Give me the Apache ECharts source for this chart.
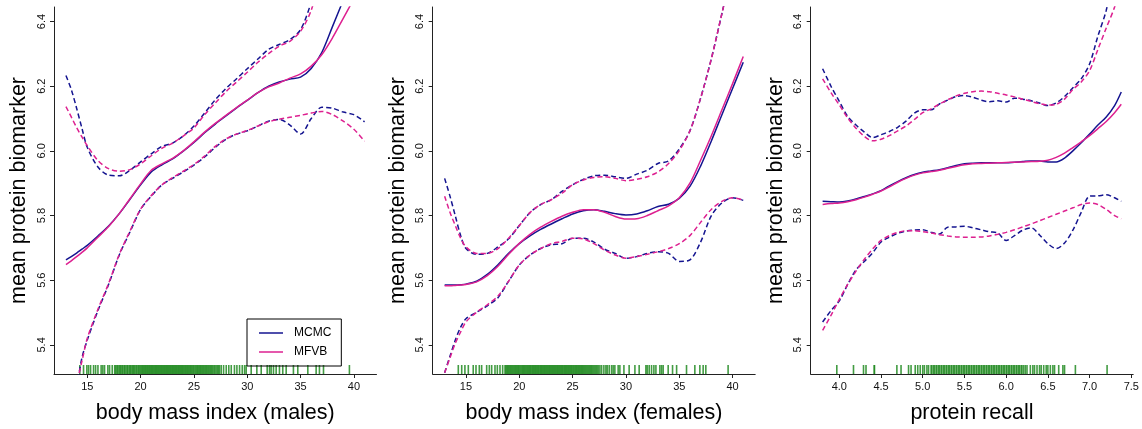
<!DOCTYPE html>
<html>
<head>
<meta charset="utf-8">
<script src="https://cdn.jsdelivr.net/npm/echarts@6/dist/echarts.min.js"></script>
<style>
html,body{margin:0;padding:0;background:#fff;}
#chart{width:1142px;height:429px;}
</style>
</head>
<body>
<div id="chart"></div>
<script>
// ---------- data ----------
const seriesNames = ['MCMC', 'MFVB'];
const xTitles = ['body mass index (males)', 'body mass index (females)', 'protein recall'];
const yTitle = 'mean protein biomarker';
const yTicks = [5.4, 5.6, 5.8, 6.0, 6.2, 6.4];
const xTicksBMI = [15, 20, 25, 30, 35, 40];
const xTicksRecall = [4.0, 4.5, 5.0, 5.5, 6.0, 6.5, 7.0, 7.5];

// Panel 1: body mass index (males)
const x1 = [13, 13.5, 14, 14.5, 15, 16, 17, 18, 19, 20, 21, 22, 23, 24, 25, 26, 27, 28, 29, 30, 31, 32, 33, 34, 35, 36, 37, 38, 39, 40, 41];
const p1McmcMean = [5.663, 5.673, 5.684, 5.696, 5.708, 5.737, 5.768, 5.806, 5.85, 5.895, 5.935, 5.957, 5.975, 5.999, 6.026, 6.056, 6.083, 6.108, 6.133, 6.156, 6.18, 6.2, 6.213, 6.222, 6.228, 6.255, 6.305, 6.385, 6.466, 6.55, 6.63];
const p1MfvbMean = [5.648, 5.66, 5.673, 5.686, 5.70, 5.733, 5.766, 5.806, 5.852, 5.898, 5.94, 5.96, 5.977, 6.0, 6.028, 6.058, 6.085, 6.11, 6.134, 6.157, 6.18, 6.198, 6.21, 6.225, 6.238, 6.262, 6.298, 6.35, 6.41, 6.47, 6.53];
const p1McmcUpper = [6.233, 6.19, 6.132, 6.07, 6.011, 5.95, 5.925, 5.923, 5.94, 5.966, 5.991, 6.014, 6.024, 6.046, 6.077, 6.117, 6.158, 6.193, 6.223, 6.254, 6.284, 6.314, 6.329, 6.344, 6.375, 6.46, 6.58, 6.72, 6.85, 6.98, 7.1];
const p1MfvbUpper = [6.137, 6.105, 6.072, 6.043, 6.016, 5.97, 5.945, 5.937, 5.942, 5.96, 5.985, 6.008, 6.024, 6.046, 6.071, 6.112, 6.148, 6.183, 6.213, 6.243, 6.274, 6.301, 6.324, 6.339, 6.37, 6.435, 6.56, 6.69, 6.82, 6.95, 7.08];
const p1McmcLower = [5.15, 5.2, 5.27, 5.36, 5.415, 5.506, 5.587, 5.678, 5.749, 5.819, 5.86, 5.895, 5.915, 5.935, 5.956, 5.981, 6.011, 6.036, 6.052, 6.062, 6.077, 6.092, 6.097, 6.08, 6.052, 6.1, 6.135, 6.132, 6.12, 6.112, 6.09];
const p1MfvbLower = [5.17, 5.22, 5.28, 5.35, 5.42, 5.51, 5.59, 5.68, 5.752, 5.82, 5.862, 5.895, 5.917, 5.937, 5.958, 5.984, 6.014, 6.037, 6.052, 6.063, 6.077, 6.09, 6.098, 6.104, 6.11, 6.117, 6.122, 6.112, 6.092, 6.067, 6.03];
const rug1 = [14.3, 14.65, 14.96, 15.12, 15.31, 15.59, 15.78, 16.0, 16.3, 16.46, 16.62, 16.93, 17.09, 17.34,
  17.57, 17.66, 17.78, 17.85, 17.97, 18.06, 18.14, 18.25, 18.33, 18.45, 18.52, 18.63, 18.74, 18.81, 18.93, 19.02, 19.1, 19.21, 19.3, 19.38, 19.47, 19.58, 19.66, 19.77, 19.85, 19.94,
  20.03, 20.12, 20.2, 20.28, 20.37, 20.45, 20.53, 20.62, 20.7, 20.78, 20.86, 20.95, 21.03, 21.1, 21.18, 21.27, 21.35, 21.43, 21.5, 21.58, 21.66, 21.74, 21.82, 21.9, 21.98,
  22.06, 22.14, 22.22, 22.3, 22.38, 22.46, 22.54, 22.62, 22.7, 22.78, 22.86, 22.94, 23.02, 23.1, 23.18, 23.26, 23.34, 23.42, 23.5, 23.58, 23.66, 23.74, 23.82, 23.9, 23.98,
  24.06, 24.15, 24.23, 24.32, 24.4, 24.48, 24.57, 24.66, 24.74, 24.83, 24.92, 25.0, 25.1, 25.19, 25.28, 25.36, 25.45, 25.55, 25.63, 25.72, 25.82, 25.9, 26.0, 26.1, 26.18, 26.28,
  26.38, 26.47, 26.58, 26.66, 26.77, 26.88, 26.97, 27.08, 27.2, 27.3, 27.4,
  27.56, 27.78, 28.03, 28.27, 28.5, 28.8, 29.03, 29.28, 29.53, 29.75, 29.9,
  30.37, 30.9, 31.31, 31.87, 32.09, 32.24, 32.46, 32.71, 33.02, 33.33, 33.65, 34.33, 34.74, 35.68, 36.46, 36.77, 37.15, 39.58];

// Panel 2: body mass index (females)
const x2 = [13, 13.5, 14, 14.5, 15, 16, 17, 18, 19, 20, 21, 22, 23, 24, 25, 26, 27, 28, 29, 30, 31, 32, 33, 34, 35, 36, 37, 38, 39, 40, 41];
const p2McmcMean = [5.585, 5.585, 5.585, 5.586, 5.588, 5.597, 5.618, 5.648, 5.683, 5.713, 5.737, 5.757, 5.774, 5.79, 5.805, 5.815, 5.818, 5.813, 5.806, 5.802, 5.805, 5.815, 5.828, 5.835, 5.853, 5.89, 5.953, 6.03, 6.112, 6.193, 6.274];
const p2MfvbMean = [5.583, 5.583, 5.584, 5.585, 5.587, 5.595, 5.614, 5.643, 5.68, 5.714, 5.742, 5.764, 5.782, 5.798, 5.81, 5.818, 5.818, 5.81, 5.797, 5.789, 5.79, 5.8, 5.815, 5.83, 5.855, 5.9, 5.971, 6.046, 6.127, 6.208, 6.292];
const p2McmcUpper = [5.915, 5.86, 5.799, 5.738, 5.698, 5.68, 5.683, 5.703, 5.728, 5.769, 5.809, 5.834, 5.849, 5.875, 5.895, 5.912, 5.923, 5.925, 5.92, 5.915, 5.928, 5.94, 5.961, 5.969, 6.006, 6.062, 6.163, 6.284, 6.425, 6.57, 6.72];
const p2MfvbUpper = [5.86, 5.81, 5.769, 5.73, 5.703, 5.683, 5.683, 5.698, 5.73, 5.769, 5.809, 5.834, 5.849, 5.869, 5.895, 5.91, 5.918, 5.92, 5.915, 5.908, 5.912, 5.92, 5.935, 5.961, 6.001, 6.062, 6.163, 6.284, 6.425, 6.57, 6.72];
const p2McmcLower = [5.314, 5.365, 5.415, 5.455, 5.481, 5.501, 5.521, 5.546, 5.597, 5.647, 5.678, 5.698, 5.71, 5.713, 5.73, 5.73, 5.718, 5.696, 5.683, 5.668, 5.673, 5.683, 5.688, 5.683, 5.658, 5.663, 5.718, 5.799, 5.839, 5.855, 5.847];
const p2MfvbLower = [5.314, 5.36, 5.405, 5.44, 5.471, 5.501, 5.524, 5.551, 5.597, 5.647, 5.678, 5.698, 5.713, 5.72, 5.73, 5.728, 5.713, 5.693, 5.678, 5.668, 5.673, 5.68, 5.688, 5.698, 5.713, 5.738, 5.779, 5.819, 5.844, 5.855, 5.848];
const rug2 = [14.28, 14.6, 14.9, 15.22, 15.68, 15.94, 16.25, 16.47, 16.94, 17.19, 17.41, 17.72, 17.94, 18.19, 18.44,
  18.66, 18.74, 18.83, 18.92, 19.0, 19.1, 19.18, 19.27, 19.36, 19.45, 19.55, 19.63, 19.72, 19.81, 19.9, 19.98,
  20.07, 20.16, 20.25, 20.33, 20.42, 20.5, 20.59, 20.68, 20.77, 20.85, 20.94, 21.02, 21.1, 21.19, 21.27, 21.35, 21.44, 21.52, 21.6, 21.69, 21.77, 21.85, 21.94,
  22.02, 22.1, 22.18, 22.27, 22.35, 22.43, 22.52, 22.6, 22.68, 22.77, 22.85, 22.93, 23.02, 23.1, 23.18, 23.27, 23.35, 23.43, 23.52, 23.6, 23.68, 23.77, 23.85, 23.94,
  24.02, 24.1, 24.19, 24.27, 24.36, 24.44, 24.53, 24.61, 24.7, 24.78, 24.87, 24.95, 25.04, 25.12, 25.21, 25.3, 25.38, 25.47, 25.56, 25.64, 25.73, 25.82, 25.9,
  25.99, 26.08, 26.17, 26.26, 26.35, 26.44, 26.53, 26.62, 26.71, 26.8, 26.9, 27.0, 27.1, 27.2, 27.3, 27.42, 27.56,
  27.72, 27.93, 28.12, 28.24, 28.43, 28.65, 28.8, 28.96, 29.27, 29.43, 29.81, 30.3, 30.84, 31.24, 31.87, 31.99, 32.18, 32.4, 32.62, 32.81,
  33.18, 33.34, 33.49, 33.96, 34.37, 34.75, 35.68, 36.46, 36.93, 37.24, 37.49, 39.58];

// Panel 3: protein recall
const x3 = [3.8, 3.9, 4.0, 4.1, 4.2, 4.3, 4.4, 4.5, 4.6, 4.7, 4.8, 4.9, 5.0, 5.1, 5.2, 5.3, 5.4, 5.5, 5.6, 5.7, 5.8, 5.9, 6.0, 6.1, 6.2, 6.3, 6.4, 6.5, 6.6, 6.7, 6.8, 6.9, 7.0, 7.1, 7.2, 7.3, 7.38];
const p3McmcMean = [5.844, 5.843, 5.842, 5.845, 5.851, 5.859, 5.867, 5.877, 5.892, 5.905, 5.917, 5.927, 5.934, 5.938, 5.942, 5.948, 5.955, 5.96, 5.962, 5.963, 5.963, 5.963, 5.963, 5.965, 5.967, 5.969, 5.969, 5.966, 5.966, 5.978, 6.0, 6.025, 6.052, 6.08, 6.105, 6.14, 6.182];
const p3MfvbMean = [5.834, 5.837, 5.839, 5.843, 5.849, 5.857, 5.866, 5.876, 5.889, 5.903, 5.915, 5.925, 5.932, 5.936, 5.94, 5.946, 5.952, 5.957, 5.96, 5.961, 5.962, 5.963, 5.964, 5.965, 5.966, 5.967, 5.968, 5.971, 5.98, 5.993, 6.01, 6.028, 6.047, 6.069, 6.091, 6.118, 6.144];
const p3McmcUpper = [6.254, 6.2, 6.153, 6.107, 6.08, 6.058, 6.041, 6.05, 6.06, 6.073, 6.092, 6.117, 6.127, 6.127, 6.145, 6.157, 6.168, 6.171, 6.166, 6.157, 6.152, 6.155, 6.151, 6.163, 6.16, 6.155, 6.148, 6.14, 6.148, 6.168, 6.195, 6.223, 6.269, 6.355, 6.435, 6.56, 6.66];
const p3MfvbUpper = [6.223, 6.18, 6.142, 6.102, 6.07, 6.045, 6.031, 6.036, 6.047, 6.062, 6.077, 6.097, 6.118, 6.13, 6.145, 6.158, 6.17, 6.178, 6.183, 6.185, 6.183, 6.178, 6.173, 6.167, 6.16, 6.153, 6.146, 6.142, 6.144, 6.16, 6.19, 6.213, 6.248, 6.314, 6.38, 6.445, 6.52];
const p3McmcLower = [5.471, 5.506, 5.536, 5.587, 5.632, 5.658, 5.685, 5.718, 5.733, 5.745, 5.752, 5.755, 5.756, 5.748, 5.743, 5.764, 5.765, 5.767, 5.762, 5.756, 5.75, 5.746, 5.723, 5.738, 5.755, 5.762, 5.74, 5.713, 5.698, 5.715, 5.755, 5.81, 5.86, 5.861, 5.864, 5.855, 5.844];
const p3MfvbLower = [5.445, 5.491, 5.541, 5.587, 5.628, 5.665, 5.697, 5.723, 5.738, 5.748, 5.753, 5.753, 5.75, 5.746, 5.741, 5.737, 5.734, 5.733, 5.733, 5.734, 5.737, 5.742, 5.748, 5.756, 5.765, 5.774, 5.784, 5.794, 5.804, 5.814, 5.824, 5.834, 5.839, 5.834, 5.819, 5.8, 5.79];
const rug3 = [3.97, 4.17, 4.29, 4.32, 4.42, 4.42, 4.69, 4.74, 4.83, 4.86, 4.91, 4.94, 4.97, 5.0, 5.02, 5.05, 5.07,
  5.1, 5.11, 5.13, 5.14, 5.16, 5.17, 5.19, 5.2, 5.22, 5.23, 5.25, 5.26, 5.28, 5.29, 5.31, 5.32, 5.34, 5.35, 5.37, 5.38, 5.4, 5.41, 5.43, 5.44, 5.46, 5.47, 5.49, 5.5,
  5.52, 5.53, 5.55, 5.56, 5.58, 5.59, 5.61, 5.62, 5.64, 5.65, 5.67, 5.68, 5.7, 5.71, 5.73, 5.74, 5.76, 5.77, 5.79, 5.8, 5.82, 5.83, 5.85, 5.86, 5.88, 5.89, 5.91, 5.92,
  5.94, 5.95, 5.97, 5.98, 6.0, 6.01, 6.03, 6.04, 6.06, 6.07, 6.09, 6.1, 6.12, 6.13, 6.15, 6.16, 6.18, 6.19, 6.21, 6.23,
  6.25, 6.29, 6.32, 6.34, 6.37, 6.4, 6.42, 6.45, 6.48, 6.5, 6.53, 6.56, 6.58, 6.63, 6.68, 6.7, 6.83, 7.21];

// ---------- chart ----------
const MCMC_COLOR = '#141490';
const MFVB_COLOR = '#DD2090';
const RUG_COLOR = '#228B22';
const FONT = '"Liberation Sans", Arial, Helvetica, sans-serif';
const Y_MIN = 5.31, Y_MAX = 6.445;

const panels = [
  {x: x1, mm: p1McmcMean, fm: p1MfvbMean, mu: p1McmcUpper, fu: p1MfvbUpper, ml: p1McmcLower, fl: p1MfvbLower, rug: rug1,
   xmin: 11.88, xmax: 42.12, ticks: xTicksBMI, dec: 0, left: 54},
  {x: x2, mm: p2McmcMean, fm: p2MfvbMean, mu: p2McmcUpper, fu: p2MfvbUpper, ml: p2McmcLower, fl: p2MfvbLower, rug: rug2,
   xmin: 11.88, xmax: 42.12, ticks: xTicksBMI, dec: 0, left: 432.7},
  {x: x3, mm: p3McmcMean, fm: p3MfvbMean, mu: p3McmcUpper, fu: p3MfvbUpper, ml: p3McmcLower, fl: p3MfvbLower, rug: rug3,
   xmin: 3.657, xmax: 7.523, ticks: xTicksRecall, dec: 1, left: 810.7}
];

const grid = [], xAxis = [], yAxis = [], series = [];
const pair = (xs, ys) => xs.map((v, i) => [v, ys[i]]);

panels.forEach((p, i) => {
  grid.push({left: p.left, top: 7, width: 322.5, height: 375, containLabel: false});
  xAxis.push({
    type: 'value', gridIndex: i, min: p.xmin, max: p.xmax,
    axisLine: {show: true, onZero: false, lineStyle: {color: '#222', width: 1}},
    axisTick: {show: true, length: 4, customValues: p.ticks, lineStyle: {color: '#222'}},
    axisLabel: {customValues: p.ticks, fontSize: 11, color: '#111', margin: 7, fontFamily: FONT,
      formatter: v => Number(v).toFixed(p.dec)},
    splitLine: {show: false},
    name: xTitles[i], nameLocation: 'middle', nameGap: 28,
    nameTextStyle: {fontSize: 21.5, color: '#000', fontFamily: FONT}
  });
  yAxis.push({
    type: 'value', gridIndex: i, min: Y_MIN, max: Y_MAX,
    axisLine: {show: true, onZero: false, lineStyle: {color: '#222', width: 1}},
    axisTick: {show: true, length: 4, customValues: yTicks, lineStyle: {color: '#222'}},
    axisLabel: {customValues: yTicks, fontSize: 11, color: '#111', margin: 7, rotate: 90, fontFamily: FONT,
      formatter: v => Number(v).toFixed(1)},
    splitLine: {show: false},
    name: yTitle, nameLocation: 'middle', nameGap: 23.5,
    nameTextStyle: {fontSize: 21.5, color: '#000', fontFamily: FONT}
  });
  const line = (name, ys, color, dashed) => ({
    type: 'line', name: name, xAxisIndex: i, yAxisIndex: i, data: pair(p.x, ys),
    symbol: 'none', smooth: 0.3, clip: true, silent: true, animation: false,
    lineStyle: {color: color, width: 1.5, type: dashed ? [5, 3] : 'solid'},
    itemStyle: {color: color}
  });
  series.push(line('MCMC', p.mm, MCMC_COLOR, false));
  series.push(line('MFVB', p.fm, MFVB_COLOR, false));
  series.push(line('MCMC band', p.mu, MCMC_COLOR, true));
  series.push(line('MFVB band', p.fu, MFVB_COLOR, true));
  series.push(line('MCMC band', p.ml, MCMC_COLOR, true));
  series.push(line('MFVB band', p.fl, MFVB_COLOR, true));
  series.push({
    type: 'custom', name: 'rug', xAxisIndex: i, yAxisIndex: i, silent: true, animation: false,
    data: p.rug.map(v => [v, Y_MIN]),
    renderItem: (params, api) => {
      const pt = api.coord([api.value(0), api.value(1)]);
      return {type: 'line', shape: {x1: pt[0], y1: pt[1], x2: pt[0], y2: pt[1] - 9},
        style: {stroke: RUG_COLOR, lineWidth: 1.6, opacity: 0.85}};
    }
  });
});

const chart = echarts.init(document.getElementById('chart'), null, {renderer: 'canvas'});
chart.setOption({
  backgroundColor: '#fff',
  animation: false,
  grid, xAxis, yAxis, series,
  legend: {
    data: seriesNames.map(n => ({name: n, icon: 'rect'})),
    orient: 'vertical', left: 247, top: 319,
    padding: [7, 10, 7, 12], itemGap: 5, itemWidth: 24, itemHeight: 1.5,
    borderColor: '#000', borderWidth: 1,
    textStyle: {fontSize: 12, lineHeight: 14, color: '#000', fontFamily: FONT, padding: [0, 0, 0, 6]}
  }
});
</script>
</body>
</html>
